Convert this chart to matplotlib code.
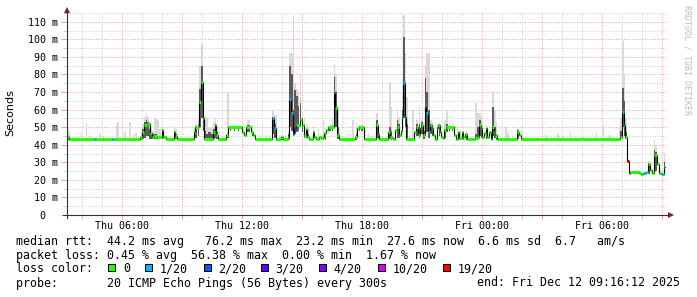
#!/usr/bin/env python3
"""
plot.py -- redraw a SmokePing latency graph (median rtt + smoke + loss colours).
"""

import matplotlib
matplotlib.use("Agg")
import matplotlib.pyplot as plt
import matplotlib.patches as mpatches
from matplotlib.ticker import MultipleLocator, FixedLocator

W, H = 697, 297
STEP = 5 / 60.0          # one rrd step = 300 s, in hours
T_START, T_END = 3.27, 33.27   # hours since Thu 00:00
DATA_END = 33.18

# ── median rtt: step start (hours since Thu 00:00) and value (ms) ─────
med_t = [3.27, 3.35, 4.63, 4.72, 5.53, 5.62, 6.92, 7.02, 7.13, 7.25,
         7.42, 7.52, 7.6, 7.75, 8.0, 8.08, 8.2, 8.6, 8.68, 8.77,
         9.6, 9.68, 9.88, 9.97, 10.05, 10.13, 10.57, 10.65, 10.73, 10.82,
         11.23, 11.32, 12.03, 12.12, 12.2, 12.45, 12.55, 12.65, 13.53, 13.62,
         13.7, 13.98, 14.07, 14.3, 14.38, 14.47, 14.55, 14.63, 14.72, 14.9,
         15.03, 15.12, 15.2, 15.28, 15.37, 15.55, 15.63, 15.72, 15.85, 15.95,
         16.05, 16.13, 16.22, 16.3, 16.6, 16.68, 16.77, 16.85, 17.65, 17.77,
         17.85, 18.1, 18.72, 18.8, 18.88, 19.32, 19.4, 19.5, 19.58, 19.68,
         19.77, 19.88, 19.95, 20.0, 20.08, 20.15, 20.22, 20.63, 20.72, 20.82,
         20.9, 20.98, 21.07, 21.15, 21.23, 21.32, 21.42, 21.5, 21.58, 21.67,
         21.75, 21.83, 21.9, 21.98, 22.07, 22.13, 22.22, 22.6, 22.7, 22.8,
         22.88, 23.0, 23.08, 23.17, 23.27, 23.5, 23.67, 23.8, 23.87, 23.95,
         24.03, 24.12, 24.2, 24.28, 24.37, 24.45, 24.53, 24.62, 24.68, 24.75,
         25.78, 25.87, 25.95, 30.93, 31.02, 31.1, 31.18, 31.27, 31.35, 31.43,
         31.7, 31.88, 31.97, 32.07, 32.22, 32.33, 32.42, 32.5, 32.6, 32.68,
         32.77, 32.85, 32.95, 33.03, 33.1]
med_ms = [44.5, 43.0, 43.0, 43.0, 43.0, 43.0, 44.6, 47.5, 51.3, 51.8,
          46.5, 44.6, 45.0, 44.3, 48.4, 44.6, 43.0, 47.5, 45.0, 43.0,
          47.5, 49.9, 64.6, 76.0, 55.0, 43.0, 47.5, 51.0, 45.6, 43.0,
          45.6, 50.3, 47.0, 45.6, 50.0, 47.5, 45.6, 43.0, 55.0, 49.4,
          43.0, 44.6, 43.0, 44.0, 66.0, 58.3, 46.0, 49.4, 51.3, 54.0,
          51.3, 45.6, 48.8, 44.6, 43.0, 47.5, 44.6, 43.0, 44.6, 43.7,
          44.6, 46.5, 48.4, 50.3, 70.3, 60.8, 45.6, 43.0, 44.6, 49.4,
          50.3, 43.0, 51.3, 46.0, 43.0, 47.5, 44.6, 43.7, 43.0, 48.4,
          50.3, 45.6, 48.0, 56.0, 75.4, 56.0, 43.0, 47.5, 50.3, 45.6,
          49.4, 51.3, 45.6, 62.3, 57.8, 47.0, 51.3, 49.4, 45.6, 43.5,
          49.4, 51.3, 47.5, 44.6, 43.7, 48.4, 50.3, 45.6, 43.0, 47.5,
          43.7, 47.5, 44.6, 46.0, 43.0, 43.5, 44.1, 44.6, 51.3, 49.4,
          44.6, 46.5, 49.4, 44.6, 47.5, 43.0, 50.3, 47.5, 45.6, 43.0,
          47.5, 45.6, 43.0, 44.6, 58.9, 51.3, 44.6, 30.6, 23.9, 24.3,
          24.6, 23.8, 23.4, 23.8, 24.3, 29.1, 25.5, 23.8, 34.2, 34.0,
          29.1, 23.8, 23.4, 23.4, 27.6]

# steps that lost pings (x of 20); every other step lost none
loss_t = [4.63, 5.53, 13.53, 13.62, 14.38, 14.47, 14.55, 14.63, 20.08, 20.15,
          21.15, 21.23, 21.32, 31.02, 31.1, 31.27, 31.35, 32.07, 33.03]
loss_n = [1, 1, 1, 1, 1, 1, 1, 3, 1, 1,
          1, 1, 1, 1, 1, 19, 10, 1, 1]

# ── smoke (spread of the 20 pings) for the steps where it is visible ──
smoke_t = [3.27, 3.35, 3.95, 4.2, 4.35, 4.88, 5.05, 5.7, 5.78, 6.13,
           6.38, 6.55, 6.68, 6.95, 7.03, 7.12, 7.2, 7.28, 7.37, 7.45,
           7.53, 7.62, 7.7, 7.78, 7.87, 8.0, 8.6, 8.68, 9.6, 9.68,
           9.8, 9.88, 9.97, 10.05, 10.13, 10.22, 10.3, 10.38, 10.47, 10.57,
           10.65, 10.73, 11.28, 11.4, 11.6, 11.8, 12.25, 12.33, 12.5, 12.85,
           13.0, 13.2, 13.35, 13.53, 13.62, 13.7, 13.87, 14.0, 14.15, 14.3,
           14.38, 14.47, 14.55, 14.63, 14.72, 14.8, 14.9, 15.0, 15.1, 15.2,
           15.3, 15.55, 15.8, 16.05, 16.15, 16.38, 16.5, 16.6, 16.68, 16.77,
           16.85, 17.53, 17.7, 17.85, 17.97, 18.3, 18.45, 18.6, 18.72, 18.8,
           19.37, 19.45, 19.75, 19.83, 20.0, 20.08, 20.15, 20.22, 20.35, 20.54,
           20.72, 20.85, 20.98, 21.07, 21.15, 21.23, 21.32, 21.42, 21.5, 21.75,
           21.85, 22.13, 22.22, 22.35, 22.5, 22.75, 22.9, 23.05, 23.2, 23.67,
           23.78, 23.87, 23.95, 24.2, 24.53, 24.62, 24.7, 25.17, 25.28, 25.78,
           27.17, 27.78, 28.03, 28.4, 29.03, 29.7, 30.03, 30.37, 30.85, 30.93,
           31.02, 31.1, 31.18, 32.33, 32.6, 32.68, 33.1]
smoke_lo = [42.5, 42.5, 42.5, 42.5, 42.5, 42.5, 42.5, 42.5, 42.5, 42.5,
            42.5, 42.5, 42.5, 42.5, 43.0, 44.0, 45.0, 45.0, 43.5, 43.0,
            43.0, 43.0, 43.0, 43.0, 43.0, 43.0, 43.0, 43.0, 43.0, 44.0,
            45.0, 50.0, 55.0, 48.0, 43.0, 42.5, 42.5, 42.5, 42.5, 43.0,
            44.0, 43.0, 44.0, 48.0, 48.0, 48.0, 47.0, 47.0, 45.0, 42.5,
            42.5, 42.5, 42.5, 46.0, 44.0, 42.5, 42.5, 42.5, 42.5, 42.5,
            50.0, 48.0, 45.0, 46.0, 47.0, 48.0, 50.0, 47.0, 44.0, 44.0,
            43.0, 43.0, 42.5, 42.5, 42.5, 48.0, 48.0, 52.0, 50.0, 43.0,
            42.5, 42.5, 42.5, 48.0, 48.0, 42.5, 42.5, 42.5, 44.0, 43.0,
            43.0, 42.5, 44.0, 44.0, 48.0, 55.0, 50.0, 43.0, 42.5, 42.5,
            45.0, 44.0, 46.0, 43.0, 48.0, 47.0, 44.0, 46.0, 45.0, 44.0,
            45.0, 44.0, 47.0, 48.0, 48.0, 42.5, 42.5, 42.5, 42.5, 42.5,
            43.0, 45.0, 44.0, 43.0, 45.0, 44.0, 42.5, 42.5, 42.5, 43.0,
            42.5, 42.5, 42.5, 42.5, 42.5, 42.5, 42.5, 42.5, 42.5, 43.0,
            50.0, 45.0, 43.0, 23.5, 25.0, 25.0, 24.0]
smoke_mid = [44.0, 43.5, 43.5, 44.0, 43.5, 43.5, 43.5, 44.0, 44.0, 43.5,
             44.0, 43.5, 43.5, 45.0, 49.0, 53.0, 54.0, 53.0, 49.0, 47.0,
             46.0, 46.0, 46.0, 45.0, 45.0, 49.0, 48.0, 46.0, 48.0, 50.0,
             51.0, 72.0, 85.0, 60.0, 48.0, 46.0, 47.0, 47.0, 46.0, 49.0,
             52.0, 47.0, 46.0, 50.5, 50.5, 50.5, 51.0, 51.0, 48.0, 43.5,
             43.5, 43.5, 43.5, 56.0, 52.0, 48.0, 43.5, 44.0, 43.5, 46.0,
             85.0, 80.0, 60.0, 71.0, 68.0, 62.0, 63.6, 55.0, 50.0, 49.0,
             46.0, 48.0, 44.0, 45.0, 46.0, 50.5, 51.0, 78.8, 70.0, 50.0,
             44.0, 44.0, 46.0, 50.5, 50.5, 43.5, 43.5, 43.5, 54.0, 48.0,
             50.0, 48.0, 54.0, 52.0, 60.0, 101.6, 76.0, 52.0, 43.5, 44.0,
             52.0, 52.0, 53.0, 48.0, 77.9, 70.0, 60.0, 52.0, 50.0, 50.0,
             51.5, 49.0, 52.0, 50.5, 50.5, 44.0, 44.0, 46.0, 45.0, 46.0,
             50.0, 54.0, 50.0, 49.5, 61.7, 50.0, 44.0, 43.5, 43.5, 48.4,
             43.5, 43.5, 43.5, 43.5, 43.5, 43.5, 43.5, 43.5, 44.0, 48.0,
             72.2, 65.0, 47.0, 29.4, 37.0, 36.0, 30.0]
smoke_hi = [49.0, 47.5, 46.5, 52.5, 45.6, 46.0, 44.8, 51.0, 53.0, 47.5,
            53.0, 46.0, 46.5, 48.0, 52.0, 56.0, 58.0, 56.0, 53.0, 50.0,
            48.0, 55.0, 55.0, 54.0, 49.0, 50.0, 50.5, 49.0, 50.0, 52.0,
            55.0, 85.0, 97.8, 75.0, 56.0, 55.0, 50.0, 50.0, 50.0, 53.0,
            55.0, 50.0, 69.3, 52.0, 51.5, 51.5, 54.0, 54.0, 51.3, 45.5,
            45.5, 45.5, 45.5, 60.0, 57.0, 57.0, 45.6, 46.0, 45.6, 48.0,
            92.0, 92.0, 114.0, 75.0, 72.0, 70.0, 79.8, 60.0, 55.0, 52.0,
            50.0, 50.0, 49.0, 54.0, 50.0, 51.5, 55.0, 85.5, 80.0, 62.0,
            49.0, 54.0, 52.2, 51.5, 51.5, 46.5, 45.5, 46.0, 57.9, 52.0,
            76.0, 61.7, 59.8, 56.0, 70.0, 114.0, 92.0, 67.0, 45.6, 59.8,
            54.0, 62.0, 55.0, 52.0, 85.0, 92.0, 92.0, 54.0, 53.0, 52.0,
            52.5, 54.0, 59.8, 52.0, 52.0, 49.0, 48.5, 48.5, 48.5, 63.6,
            58.0, 58.0, 56.0, 51.0, 70.3, 60.0, 53.0, 50.0, 46.5, 49.0,
            45.6, 46.5, 44.8, 47.5, 44.6, 47.5, 51.3, 45.6, 50.0, 55.0,
            98.8, 80.0, 55.0, 31.0, 42.7, 40.0, 35.2]

# ── axis labels and legend text ──────────────────────────────────────
xtick_hours = [6, 12, 18, 24, 30]
xtick_labels = ["Thu 06:00", "Thu 12:00", "Thu 18:00", "Fri 00:00", "Fri 06:00"]
ytick_ms = [0, 10, 20, 30, 40, 50, 60, 70, 80, 90, 100, 110]
ytick_labels = ["0  ", "10 m", "20 m", "30 m", "40 m", "50 m", "60 m",
                "70 m", "80 m", "90 m", "100 m", "110 m"]

loss_keys = [0, 1, 2, 3, 4, 10, 19]
loss_labels = ["0", "1/20", "2/20", "3/20", "4/20", "10/20", "19/20"]
loss_colors = ["#26ff00", "#00b8ff", "#0059ff", "#5e00ff", "#7e00ff",
               "#dd00ff", "#ff0000"]

rtt_stats = [44.2, 76.2, 23.2, 27.6, 6.6, 6.7]       # avg max min now sd am/s
loss_stats = [0.45, 56.38, 0.00, 1.67]               # avg max min now (%)
probe_text = "20 ICMP Echo Pings (56 Bytes) every 300s"
end_text = "end: Fri Dec 12 09:16:12 2025"

MONO = "DejaVu Sans Mono"
GRID_RED = "#f0a4a4"
GRID_GREY = "#cdcdcd"
AXIS_COL = "#333333"
ARROW_COL = "#8e1d1d"
SMOKE_LIGHT = "#d9d9d9"
SMOKE_DARK = "#5a5a5a"


def fx(x):
    return x / W


def fy(y):
    return 1 - y / H


assert len(med_t) == len(med_ms)
assert len(loss_t) == len(loss_n)
assert len(smoke_t) == len(smoke_lo) == len(smoke_mid) == len(smoke_hi)

fig = plt.figure(figsize=(W / 100, H / 100), dpi=100, facecolor="white")
ax = fig.add_axes([fx(67), fy(215), 600 / W, 202 / H])
for s in ax.spines.values():
    s.set_visible(False)

# grid: red every 3 h / 10 ms, grey every hour / 5 ms
major_h = [h for h in range(0, 36, 3) if T_START <= h <= T_END]
xlab = dict(zip(xtick_hours, xtick_labels))
ax.set_xticks(major_h)
ax.set_xticklabels([xlab.get(h, "") for h in major_h])
ax.xaxis.set_minor_locator(MultipleLocator(1))
ax.yaxis.set_major_locator(FixedLocator(ytick_ms))
ax.yaxis.set_minor_locator(MultipleLocator(5))
ax.set_yticklabels(ytick_labels)
ax.set_xlim(T_START, T_END)
ax.set_ylim(0, 115)

dots = (0, (1, 1.6))
ax.grid(which="major", color=GRID_RED, linewidth=0.72, linestyle=dots)
ax.grid(which="minor", color=GRID_GREY, linewidth=0.72, linestyle=dots)
ax.set_axisbelow(True)

ax.tick_params(which="both", direction="out", length=3, width=0.72,
               labelsize=7.2, pad=1.2)
ax.tick_params(which="major", color=GRID_RED)
ax.tick_params(which="minor", color=GRID_GREY)
ax.tick_params(axis="y", length=4, pad=2.5)
for lab in ax.get_xticklabels() + ax.get_yticklabels():
    lab.set_fontfamily(MONO)

for axis in (ax.xaxis, ax.yaxis):
    for tk in axis.get_major_ticks() + axis.get_minor_ticks():
        tk.gridline.set_snap(True)

# smoke
lo_light = [min(l, h) for l, h in zip(smoke_lo, smoke_hi)]
ax.bar(smoke_t, [h - l for l, h in zip(lo_light, smoke_hi)], bottom=lo_light,
       width=STEP, align="edge", color=SMOKE_LIGHT, linewidth=0, zorder=2)
ax.bar(smoke_t, [max(m - l, 0) for l, m in zip(smoke_lo, smoke_mid)],
       bottom=smoke_lo, width=STEP, align="edge", color=SMOKE_DARK,
       linewidth=0, zorder=3)

# median line (black) and loss-coloured median segments
t_next = med_t[1:] + [DATA_END]
ax.step(med_t + [DATA_END], med_ms + [med_ms[-1]], where="post",
        color="black", linewidth=0.8, zorder=4)
loss_at = dict(zip(loss_t, loss_n))
key_col = dict(zip(loss_keys, loss_colors))
seg_cols = [key_col[loss_at.get(t, 0)] for t in med_t]
ax.hlines(med_ms, med_t, t_next, colors=seg_cols, linewidth=2.2, zorder=5)
ax.set_xlim(T_START, T_END)
ax.set_ylim(0, 115)

# axis lines with arrow heads
fig.add_artist(plt.Line2D([fx(63), fx(669)], [fy(215), fy(215)],
                          color=AXIS_COL, linewidth=0.8))
fig.add_artist(plt.Line2D([fx(67), fx(67)], [fy(218), fy(11)],
                          color=AXIS_COL, linewidth=0.8))
fig.add_artist(mpatches.Polygon([[fx(668), fy(212)], [fx(674), fy(215)],
                                 [fx(668), fy(218)]], closed=True,
                                color=ARROW_COL, linewidth=0))
fig.add_artist(mpatches.Polygon([[fx(64), fy(13)], [fx(67), fy(7)],
                                 [fx(70), fy(13)]], closed=True,
                                color=ARROW_COL, linewidth=0))

fig.text(fx(10), fy(113), "Seconds", rotation=90, ha="center", va="center",
         fontsize=8, family="DejaVu Sans")
fig.text(fx(687), fy(60), "RRDTOOL / TOBI OETIKER", rotation=270,
         ha="center", va="center", fontsize=6, family=MONO, color="#bdbdbd")

# legend / summary block
LEG = 8.4
a, mx, mn, now, sd, ams = rtt_stats
line1 = (f"median rtt:  {a:.1f} ms avg   {mx:.1f} ms max  {mn:.1f} ms min  "
         f"{now:.1f} ms now  {sd:.1f} ms sd  {ams:.1f}   am/s")
la, lmx, lmn, lnow = loss_stats
line2 = (f"packet loss: {la:.2f} % avg  {lmx:.2f} % max  {lmn:.2f} % min  "
         f"{lnow:.2f} % now")
fig.text(fx(16), fy(241), line1, family=MONO, fontsize=LEG, va="center")
fig.text(fx(16), fy(255), line2, family=MONO, fontsize=LEG, va="center")
fig.text(fx(16), fy(269), "loss color:", family=MONO, fontsize=LEG, va="center")
box_x = [108.3, 145.2, 203.8, 260.6, 319.2, 377.8, 442.7]
for bx, lab, col in zip(box_x, loss_labels, loss_colors):
    fig.add_artist(mpatches.Rectangle((fx(bx), fy(271)), 7 / W, 7 / H,
                                      facecolor=col, edgecolor="black",
                                      linewidth=0.72))
    fig.text(fx(bx + 14.5), fy(269), lab, family=MONO, fontsize=LEG, va="center")
fig.text(fx(16), fy(283), "probe:       " + probe_text, family=MONO,
         fontsize=LEG, va="center")
fig.text(fx(680), fy(283), end_text, family=MONO, fontsize=LEG,
         va="center", ha="right")

fig.savefig("out.png", dpi=100, facecolor="white")
